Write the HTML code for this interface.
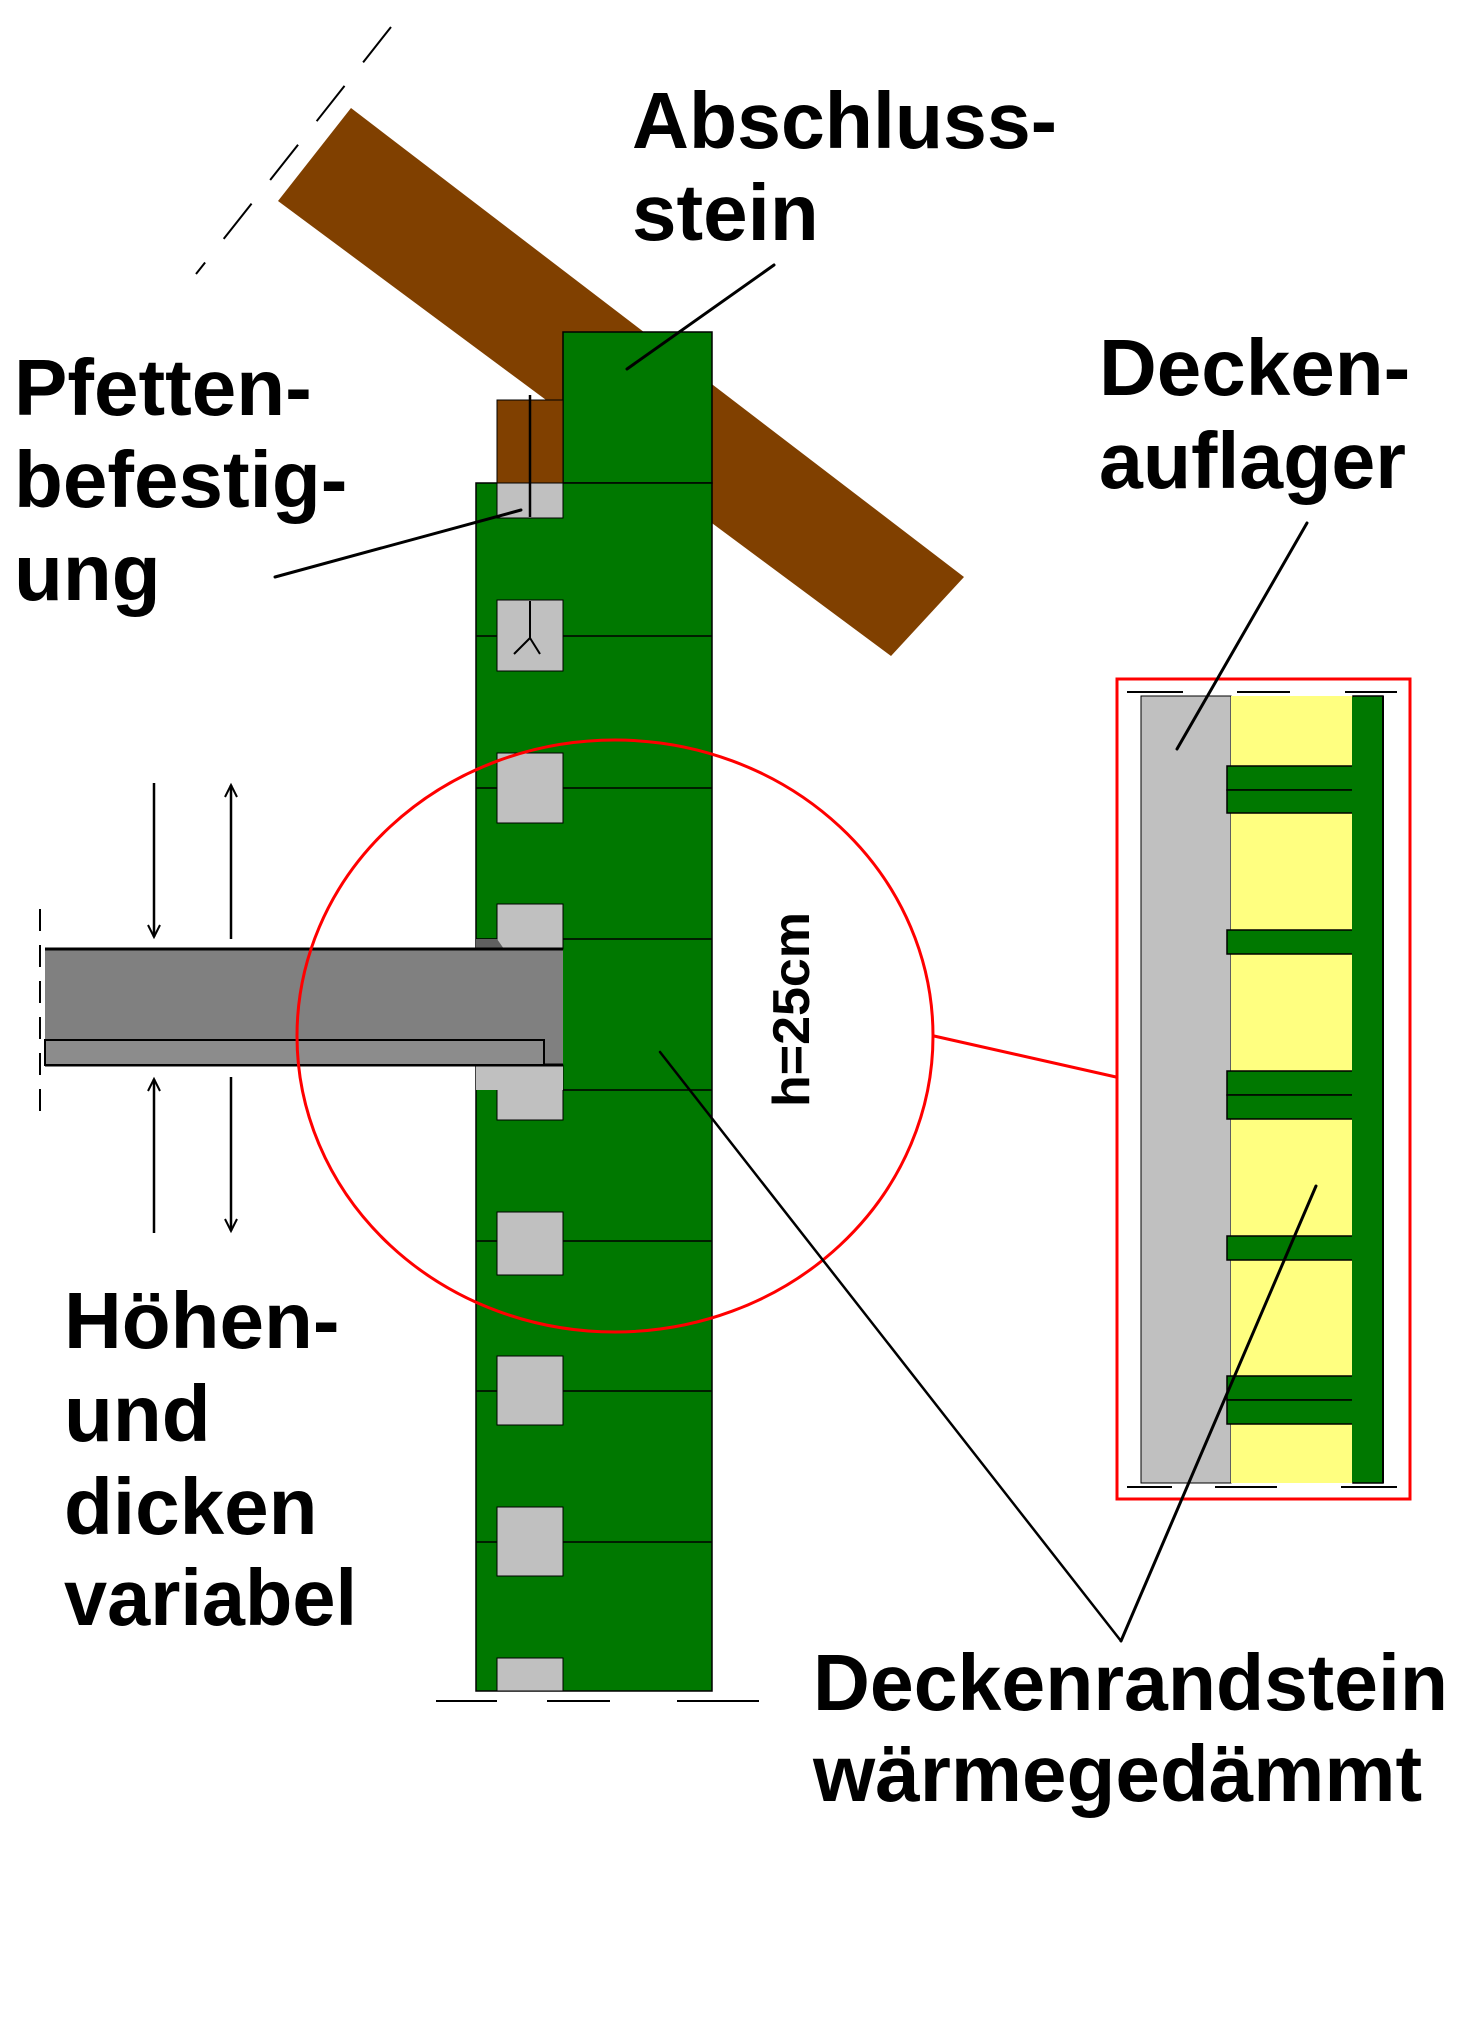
<!DOCTYPE html>
<html><head><meta charset="utf-8"><style>
html,body{margin:0;padding:0;background:#fff}
svg{display:block}
text{font-family:"Liberation Sans",Arial,sans-serif;font-weight:bold;fill:#000}
</style></head><body>
<svg width="1479" height="2021" viewBox="0 0 1479 2021" xmlns="http://www.w3.org/2000/svg">
<defs>
<marker id="ah" markerWidth="16" markerHeight="16" refX="13" refY="8" orient="auto" markerUnits="userSpaceOnUse">
<path d="M1,2 L13,8 L1,14" fill="none" stroke="#000" stroke-width="2"/>
</marker>
</defs>
<!-- dashed roof line -->
<line x1="391" y1="27" x2="196" y2="274" stroke="#000" stroke-width="2" stroke-dasharray="45,30"/>
<!-- rafter -->
<polygon points="351,108 964,577 891,656 278,201" fill="#804000"/>
<!-- green wall -->
<rect x="563" y="332" width="149" height="151" fill="#007800" stroke="#000" stroke-width="1.5"/>
<rect x="476" y="483" width="236" height="1208" fill="#007800" stroke="#000" stroke-width="1.5"/>
<!-- brown block -->
<rect x="497" y="400" width="66" height="83" fill="#804000" stroke="#000" stroke-width="1"/>
<!-- joint lines -->
<g stroke="#000" stroke-width="1.5">
<line x1="476" y1="636" x2="712" y2="636"/>
<line x1="476" y1="788" x2="712" y2="788"/>
<line x1="476" y1="939" x2="712" y2="939"/>
<line x1="563" y1="1090" x2="712" y2="1090"/>
<line x1="476" y1="1241" x2="712" y2="1241"/>
<line x1="476" y1="1391" x2="712" y2="1391"/>
<line x1="476" y1="1542" x2="712" y2="1542"/>
</g>
<!-- grey squares -->
<g fill="#c0c0c0" stroke="#000" stroke-width="1">
<rect x="497" y="483" width="66" height="35"/>
<rect x="497" y="600" width="66" height="71"/>
<rect x="497" y="753" width="66" height="70"/>
<rect x="497" y="904" width="66" height="45"/>
<rect x="497" y="1065" width="66" height="55"/>
<rect x="497" y="1212" width="66" height="63"/>
<rect x="497" y="1356" width="66" height="69"/>
<rect x="497" y="1507" width="66" height="69"/>
<rect x="497" y="1658" width="66" height="33"/>
</g>
<rect x="476" y="1065" width="87" height="25" fill="#c0c0c0"/>
<polygon points="476,939 497,939 504,949 476,949" fill="#606060"/>
<!-- pfette fastener -->
<line x1="530" y1="395" x2="530" y2="517" stroke="#000" stroke-width="2.5"/>
<path d="M530,601 L530,638 M530,638 L514,654 M530,638 L540,654" stroke="#000" stroke-width="2" fill="none"/>
<!-- slab -->
<rect x="45" y="949" width="518" height="116" fill="#808080"/>
<line x1="45" y1="949" x2="563" y2="949" stroke="#000" stroke-width="3"/>
<line x1="45" y1="1065" x2="563" y2="1065" stroke="#000" stroke-width="3"/>
<rect x="45" y="1040" width="499" height="25" fill="#8c8c8c" stroke="#000" stroke-width="2"/>
<line x1="40" y1="909" x2="40" y2="1117" stroke="#000" stroke-width="2" stroke-dasharray="22,14"/>
<!-- arrows -->
<g stroke="#000" stroke-width="2.5" fill="none">
<line x1="154" y1="783" x2="154" y2="937" marker-end="url(#ah)"/>
<line x1="231" y1="939" x2="231" y2="785" marker-end="url(#ah)"/>
<line x1="154" y1="1233" x2="154" y2="1079" marker-end="url(#ah)"/>
<line x1="231" y1="1077" x2="231" y2="1231" marker-end="url(#ah)"/>
</g>
<!-- bottom dashes -->
<g stroke="#000" stroke-width="2">
<line x1="436" y1="1701" x2="497" y2="1701"/>
<line x1="547" y1="1701" x2="610" y2="1701"/>
<line x1="677" y1="1701" x2="759" y2="1701"/>
</g>
<!-- red ellipse and link -->
<ellipse cx="615" cy="1036" rx="318" ry="296" fill="none" stroke="#f00" stroke-width="3"/>
<line x1="934" y1="1036" x2="1116" y2="1077" stroke="#f00" stroke-width="3"/>
<!-- inset -->
<rect x="1117" y="679" width="293" height="820" fill="#fff" stroke="#f00" stroke-width="3"/>
<rect x="1141" y="696" width="90" height="787" fill="#c0c0c0" stroke="#000" stroke-width="1"/>
<rect x="1231" y="696" width="122" height="787" fill="#ffff80"/>
<rect x="1353" y="696" width="30" height="787" fill="#007800" stroke="#000" stroke-width="1.5"/>
<g fill="#007800" stroke="#000" stroke-width="1.5">
<rect x="1227" y="766" width="140" height="24"/>
<rect x="1227" y="790" width="140" height="23"/>
<rect x="1227" y="930" width="140" height="24"/>
<rect x="1227" y="1071" width="140" height="24"/>
<rect x="1227" y="1095" width="140" height="24"/>
<rect x="1227" y="1236" width="140" height="24"/>
<rect x="1227" y="1376" width="140" height="24"/>
<rect x="1227" y="1400" width="140" height="24"/>
</g>
<rect x="1352" y="697" width="30" height="785" fill="#007800"/>
<line x1="1383" y1="696" x2="1383" y2="1483" stroke="#000" stroke-width="2"/>
<g stroke="#000" stroke-width="2">
<line x1="1127" y1="692" x2="1183" y2="692"/>
<line x1="1237" y1="692" x2="1290" y2="692"/>
<line x1="1345" y1="692" x2="1397" y2="692"/>
<line x1="1127" y1="1487" x2="1172" y2="1487"/>
<line x1="1215" y1="1487" x2="1277" y2="1487"/>
<line x1="1341" y1="1487" x2="1397" y2="1487"/>
</g>
<!-- leaders -->
<g stroke="#000" stroke-width="3" fill="none" stroke-linecap="round">
<line x1="774" y1="265" x2="627" y2="369"/>
<line x1="275" y1="577" x2="521" y2="510"/>
<line x1="1307" y1="523" x2="1177" y2="749"/>
<line x1="1121" y1="1641" x2="660" y2="1052" stroke-width="2.5"/>
<line x1="1121" y1="1641" x2="1316" y2="1186"/>
</g>
<!-- labels -->
<g font-size="80">
<text x="632" y="148" textLength="425" lengthAdjust="spacingAndGlyphs">Abschluss-</text>
<text x="632" y="240">stein</text>
<text x="14" y="415">Pfetten-</text>
<text x="14" y="507">befestig-</text>
<text x="14" y="600">ung</text>
<text x="1099" y="395">Decken-</text>
<text x="1099" y="488" textLength="307" lengthAdjust="spacingAndGlyphs">auflager</text>
<text x="64" y="1348">Höhen-</text>
<text x="64" y="1441">und</text>
<text x="64" y="1534">dicken</text>
<text x="64" y="1625" textLength="293" lengthAdjust="spacingAndGlyphs">variabel</text>
<text x="813" y="1710" textLength="635" lengthAdjust="spacingAndGlyphs">Deckenrandstein</text>
<text x="813" y="1801">wärmegedämmt</text>
</g>
<text font-size="52" transform="translate(809,1107) rotate(-90)" textLength="195" lengthAdjust="spacingAndGlyphs">h=25cm</text>
</svg>
</body></html>
